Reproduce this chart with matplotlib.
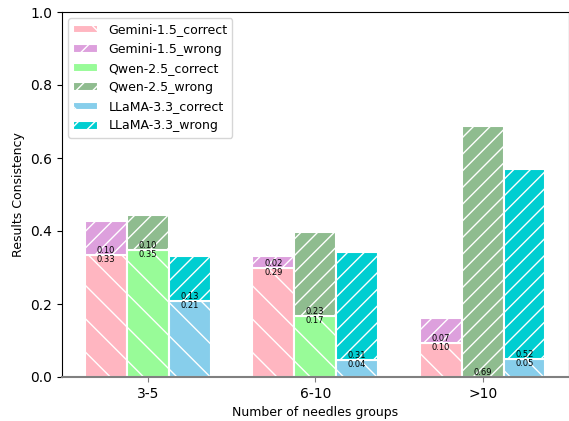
import matplotlib
matplotlib.use("Agg")
import matplotlib.pyplot as plt
import numpy as np

groups = ["3-5", "6-10", ">10"]
models = ["Gemini-1.5", "Qwen-2.5", "LLaMA-3.3"]
gemini_correct = [0.334, 0.298, 0.094]
gemini_wrong = [0.093, 0.033, 0.069]
qwen_correct = [0.348, 0.167, 0.00]
qwen_wrong = [0.096, 0.23, 0.688]
llama_correct = [0.208, 0.046, 0.048]
llama_wrong = [0.123, 0.296, 0.522]

gemini_correct_txt = ["0.33", "0.29", "0.10"]
gemini_wrong_txt = ["0.10", "0.02", "0.07"]
qwen_correct_txt = ["0.35", "0.17", ""]
qwen_wrong_txt = ["0.10", "0.23", "0.69"]
llama_correct_txt = ["0.21", "0.04", "0.05"]
llama_wrong_txt = ["0.13", "0.31", "0.52"]

correct_colors = ["lightpink", "palegreen", "skyblue"]
wrong_colors = ["plum", "darkseagreen", "darkturquoise"]

plt.rcParams["hatch.color"] = "white"
plt.rcParams["axes.labelsize"] = 9
plt.rcParams["legend.fontsize"] = 9

fig = plt.figure(figsize=(5.69, 4.21), dpi=100)
ax = fig.add_axes([62 / 569, 44 / 421, 506.5 / 569, 365 / 421])

x = np.arange(len(groups))
width = 0.25
series = [
    (gemini_correct, gemini_wrong, gemini_correct_txt, gemini_wrong_txt),
    (qwen_correct, qwen_wrong, qwen_correct_txt, qwen_wrong_txt),
    (llama_correct, llama_wrong, llama_correct_txt, llama_wrong_txt),
]

for i, (corr, wrong, ctxt, wtxt) in enumerate(series):
    pos = x + (i - 1) * width
    ax.bar(pos, corr, width, color=correct_colors[i], edgecolor="white",
           linewidth=1.5, hatch="\\", label=models[i] + "_correct")
    ax.bar(pos, wrong, width, bottom=corr, color=wrong_colors[i], edgecolor="white",
           linewidth=1.5, hatch="//", label=models[i] + "_wrong")
    for p, c, ct, wt in zip(pos, corr, ctxt, wtxt):
        if wt:
            ax.text(p, c, wt, ha="center", va="bottom", fontsize=6)
        if ct:
            ax.text(p, c, ct, ha="center", va="top", fontsize=6)

ax.set_ylim(0, 1.0)
ax.set_xticks(x)
ax.set_xticklabels(groups)
ax.set_yticks(np.arange(0, 1.01, 0.2))
ax.set_xlabel("Number of needles groups")
ax.set_ylabel("Results Consistency")
ax.spines["bottom"].set_color("grey")
ax.spines["bottom"].set_linewidth(1.5)
ax.tick_params(axis="x", color="grey")
ax.legend(loc="upper left")

fig.savefig("out.png", dpi=100)
